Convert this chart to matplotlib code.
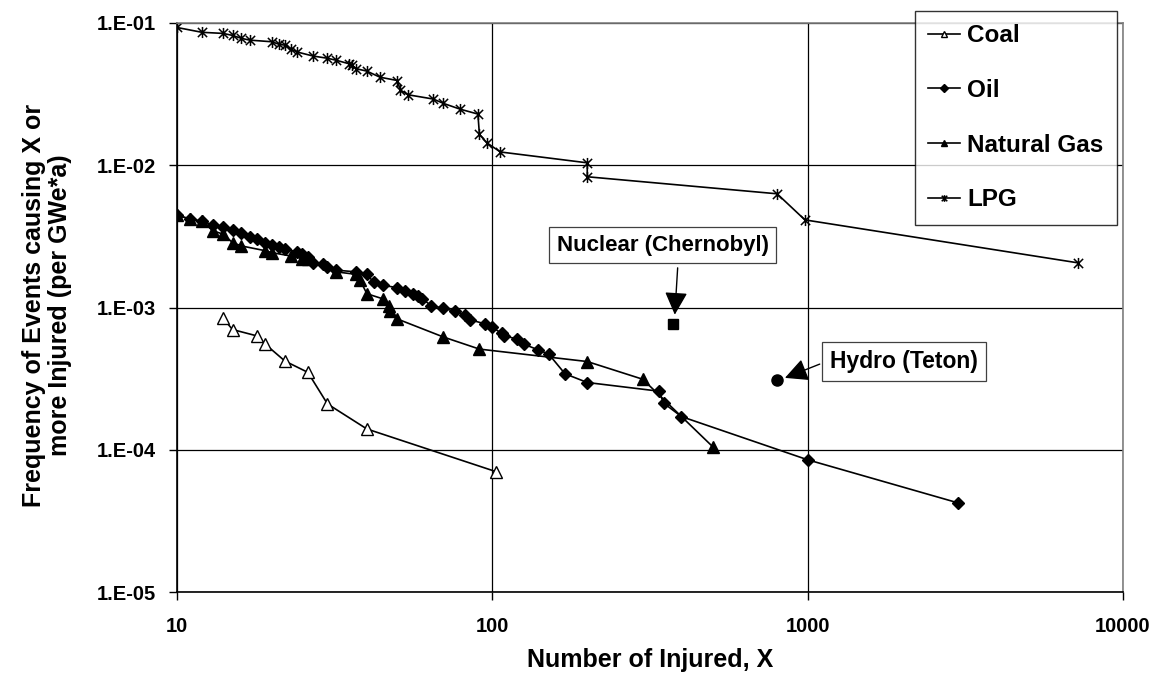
import matplotlib
matplotlib.use("Agg")
import matplotlib.pyplot as plt
from matplotlib.path import Path

# number of injured (X) and frequency of events causing X or more injured (per GWe*a)
coal_x = [14, 15, 18, 19, 22, 26, 30, 40, 103]
coal_y = [8.4e-4, 7.0e-4, 6.3e-4, 5.55e-4, 4.2e-4, 3.5e-4, 2.1e-4, 1.4e-4, 7.0e-5]

oil_x = [10, 11, 12, 13, 14, 15, 16, 17, 18, 19,
         20, 21, 22, 24, 25, 26, 27, 29, 30, 32,
         37, 40, 42, 45, 50, 53, 56, 58, 60, 64,
         70, 76, 82, 85, 95, 100, 107, 109, 120, 126,
         140, 151, 170, 200, 338, 349, 398, 1000, 3000]
oil_y = [4.45e-3, 4.19e-3, 4.03e-3, 3.82e-3, 3.68e-3, 3.52e-3, 3.33e-3, 3.15e-3, 3.02e-3, 2.86e-3,
         2.75e-3, 2.65e-3, 2.58e-3, 2.47e-3, 2.37e-3, 2.25e-3, 2.07e-3, 2.02e-3, 1.93e-3, 1.83e-3,
         1.78e-3, 1.71e-3, 1.51e-3, 1.43e-3, 1.38e-3, 1.30e-3, 1.24e-3, 1.20e-3, 1.15e-3, 1.03e-3,
         9.9e-4, 9.4e-4, 8.9e-4, 8.2e-4, 7.66e-4, 7.26e-4, 6.58e-4, 6.33e-4, 6.0e-4, 5.52e-4,
         5.03e-4, 4.7e-4, 3.42e-4, 2.97e-4, 2.58e-4, 2.13e-4, 1.71e-4, 8.5e-5, 4.23e-5]

gas_x = [10, 11, 12, 13, 14, 15, 16, 19, 20, 23, 25, 26, 32,
         37, 38, 40, 45, 47, 47.5, 50, 70, 91, 200, 300, 500]
gas_y = [4.45e-3, 4.19e-3, 4.03e-3, 3.46e-3, 3.28e-3, 2.86e-3, 2.71e-3, 2.51e-3, 2.43e-3,
         2.30e-3, 2.21e-3, 2.18e-3, 1.78e-3, 1.71e-3, 1.57e-3, 1.25e-3, 1.15e-3, 1.03e-3,
         9.4e-4, 8.3e-4, 6.2e-4, 5.1e-4, 4.17e-4, 3.13e-4, 1.05e-4]

lpg_x = [10, 12, 14, 15, 16, 17, 20, 21, 22, 23,
         24, 27, 30, 32, 35, 36, 37, 40, 44, 50,
         51, 54, 65, 70, 79, 90, 91, 96, 106, 200,
         200, 800, 980, 7200]
lpg_y = [0.093, 0.086, 0.0845, 0.0818, 0.078, 0.0758, 0.0738, 0.071, 0.0698, 0.0654,
         0.0626, 0.0586, 0.0565, 0.0547, 0.0518, 0.0504, 0.0477, 0.0459, 0.0416, 0.0394,
         0.0339, 0.0313, 0.0292, 0.0272, 0.0248, 0.0229, 0.0165, 0.0144, 0.0124, 0.0104,
         0.0083, 0.0063, 0.00413, 0.00206]

# single events
nuclear_x, nuclear_y = 373, 7.66e-4
hydro_x, hydro_y = 800, 3.09e-4

x_ticks = [10, 100, 1000, 10000]
x_tick_labels = ["10", "100", "1000", "10000"]
y_ticks = [1e-5, 1e-4, 1e-3, 1e-2, 1e-1]
y_tick_labels = ["1.E-05", "1.E-04", "1.E-03", "1.E-02", "1.E-01"]

plt.rcParams['font.family'] = ['Liberation Sans', 'DejaVu Sans']
plt.rcParams['font.weight'] = 'bold'

# asterisk marker: an x with a vertical stroke
star = Path([(-1, -1), (1, 1), (-1, 1), (1, -1), (0, -1.2), (0, 1.2)],
            [Path.MOVETO, Path.LINETO, Path.MOVETO, Path.LINETO, Path.MOVETO, Path.LINETO])

W, H = 1164, 677
fig = plt.figure(figsize=(W / 100, H / 100), dpi=100)
ax = fig.add_axes([177 / W, 1 - 592 / H, 946 / W, 569 / H])

ax.plot(coal_x, coal_y, color='black', lw=1.2, marker='^', ms=8,
        mfc='white', mec='black', mew=1.0, label='Coal')
ax.plot(oil_x, oil_y, color='black', lw=1.2, marker='D', ms=6.5,
        mfc='black', mec='black', label='Oil')
ax.plot(gas_x, gas_y, color='black', lw=1.2, marker='^', ms=8,
        mfc='black', mec='black', label='Natural Gas')
ax.plot(lpg_x, lpg_y, color='black', lw=1.2, marker=star, ms=8,
        mfc='none', mec='black', mew=1.1, label='LPG')

ax.plot([nuclear_x], [nuclear_y], ls='none', marker='s', ms=7, color='black')
ax.plot([hydro_x], [hydro_y], ls='none', marker='o', ms=8, color='black')

ax.set_xscale('log')
ax.set_yscale('log')
ax.set_xlim(10, 10000)
ax.set_ylim(1e-5, 1e-1)
ax.set_xticks(x_ticks, x_tick_labels)
ax.set_yticks(y_ticks, y_tick_labels)
ax.minorticks_off()
ax.tick_params(axis='both', direction='out', length=6, width=1, labelsize=14.5)
ax.tick_params(axis='x', pad=12)
ax.tick_params(axis='y', pad=9)
ax.grid(True, color='black', lw=0.9)
ax.set_axisbelow(True)

for side in ['top', 'right']:
    ax.spines[side].set_color('#808080')
    ax.spines[side].set_linewidth(1.2)
for side in ['left', 'bottom']:
    ax.spines[side].set_color('black')
    ax.spines[side].set_linewidth(1.2)

# event labels with arrows
box = dict(boxstyle='square,pad=0.35', fc='white', ec='#404040', lw=0.9)
ax.text(160, 2.75e-3, "Nuclear (Chernobyl)", fontsize=16, fontweight='bold',
        ha='left', va='center', bbox=box)
ax.annotate('', xy=(379, 8.9e-4), xytext=(387, 1.9e-3),
            arrowprops=dict(arrowstyle='-|>,head_length=0.7,head_width=0.35',
                            color='black', lw=1, shrinkA=0, shrinkB=0,
                            mutation_scale=20))
ax.text(1175, 4.2e-4, "Hydro (Teton)", fontsize=16.5, fontweight='bold',
        ha='left', va='center', bbox=box)
ax.annotate('', xy=(847, 3.2e-4), xytext=(1092, 4.0e-4),
            arrowprops=dict(arrowstyle='-|>,head_length=0.7,head_width=0.35',
                            color='black', lw=1, shrinkA=0, shrinkB=0,
                            mutation_scale=20))

leg = fig.legend(loc='upper left', bbox_to_anchor=(915 / W, 1 - 11 / H),
                 fontsize=17.5, frameon=True, fancybox=False, markerscale=0.6,
                 labelspacing=1.3, handlelength=1.3, handletextpad=0.3,
                 borderpad=0.55, borderaxespad=0)
leg.get_frame().set_edgecolor('black')
leg.get_frame().set_linewidth(1.0)
for txt in leg.get_texts():
    txt.set_fontweight('bold')

fig.text(650 / W, 1 - 660 / H, "Number of Injured, X", fontsize=18,
         fontweight='bold', ha='center', va='center')
fig.text(47 / W, 1 - 305 / H, "Frequency of Events causing X or\nmore Injured (per GWe*a)",
         fontsize=18, fontweight='bold', ha='center', va='center',
         rotation=90, linespacing=1.1)

fig.savefig("out.png", dpi=100)
